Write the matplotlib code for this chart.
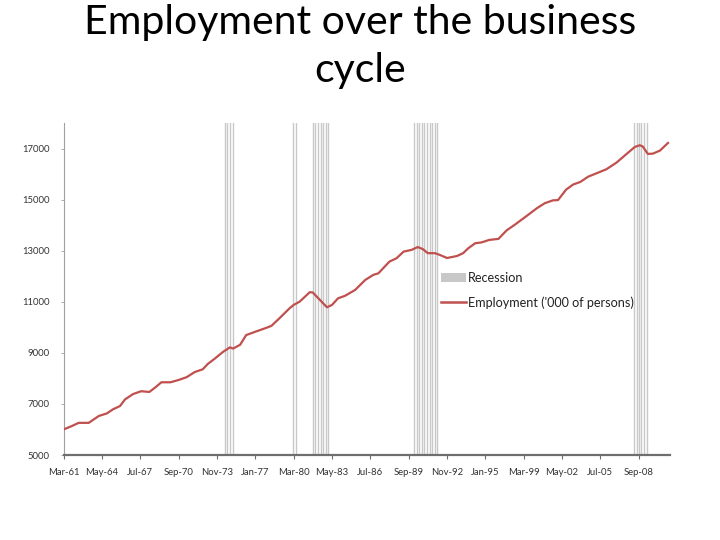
import matplotlib
matplotlib.use("Agg")
import matplotlib.pyplot as plt
from matplotlib.patches import Patch
from matplotlib.lines import Line2D

# ---- data ----
emp_dates = ["1961-03", "1961-11", "1962-06", "1963-04", "1964-02", "1964-10", "1965-04",
             "1965-11", "1966-04", "1966-12", "1967-08", "1968-04", "1968-10", "1969-04",
             "1970-01", "1970-09", "1971-05", "1972-01", "1972-09", "1973-02", "1973-09",
             "1974-05", "1974-12", "1975-03", "1975-10", "1976-04", "1977-01", "1977-11",
             "1978-05", "1979-01", "1979-11", "1980-03", "1980-09", "1981-07", "1981-10",
             "1982-05", "1982-12", "1983-05", "1983-11", "1984-06", "1985-04", "1986-02",
             "1986-10", "1987-03", "1988-02", "1988-09", "1989-04", "1989-12", "1990-06",
             "1990-11", "1991-04", "1991-11", "1992-04", "1992-11", "1993-09", "1994-03",
             "1994-08", "1995-03", "1995-09", "1996-05", "1997-02", "1997-10", "1998-06",
             "1999-06", "2000-04", "2000-12", "2001-08", "2002-01", "2002-09", "2003-04",
             "2003-11", "2004-07", "2005-05", "2006-01", "2006-11", "2007-09", "2008-05",
             "2008-10", "2009-01", "2009-06", "2009-11", "2010-06", "2011-02"]
emp_values = [6000, 6130, 6260, 6260, 6530, 6630, 6790,
              6920, 7180, 7390, 7500, 7470, 7650, 7850,
              7850, 7940, 8050, 8250, 8360, 8570, 8780,
              9040, 9220, 9170, 9320, 9700, 9830, 9970,
              10060, 10360, 10750, 10880, 11010, 11380, 11370,
              11080, 10790, 10880, 11140, 11240, 11470, 11860,
              12060, 12120, 12580, 12710, 12970, 13040, 13150,
              13070, 12910, 12910, 12840, 12720, 12800, 12910,
              13100, 13300, 13330, 13430, 13470, 13800, 14020,
              14370, 14670, 14870, 14980, 14990, 15400, 15600,
              15700, 15910, 16070, 16200, 16460, 16800, 17070,
              17140, 17090, 16800, 16810, 16930, 17230]

recession_dates = ["1974-07", "1974-09", "1974-12", "1975-03",
                   "1980-02", "1980-05",
                   "1981-10", "1981-12", "1982-03", "1982-06", "1982-08", "1982-11", "1983-01",
                   "1990-02", "1990-05", "1990-07", "1990-10", "1990-12", "1991-03", "1991-06",
                   "1991-08", "1991-11", "1992-01",
                   "2008-04", "2008-07", "2008-09", "2008-11", "2009-02", "2009-05"]

tick_labels = ["Mar-61", "May-64", "Jul-67", "Sep-70", "Nov-73", "Jan-77", "Mar-80", "May-83",
               "Jul-86", "Sep-89", "Nov-92", "Jan-95", "Mar-99", "May-02", "Jul-05", "Sep-08"]
tick_step_months = 38
y_ticks = [5000, 7000, 9000, 11000, 13000, 15000, 17000]

START_Y, START_M = 1961, 3


def month_index(s):
    y, m = map(int, s.split("-"))
    return (y - START_Y) * 12 + (m - START_M)


# ---- figure ----
plt.rcParams['font.family'] = ['Lato', 'DejaVu Sans']
fig = plt.figure(figsize=(7.2, 5.4), dpi=100)
fig.patch.set_facecolor("white")

fig.text(0.5, 0.993, "Employment over the business\ncycle", ha="center", va="top",
         fontsize=29.5, color="#000000", linespacing=1.38)

ax = fig.add_axes([0.0882, 0.1574, 0.8424, 0.6143])

rec_color = "#C8C8C8"
for d in recession_dates:
    ax.axvline(month_index(d), color=rec_color, lw=1.0, zorder=1)

xs = [month_index(d) for d in emp_dates]
ax.plot(xs, emp_values, color="#C0504D", lw=1.6, zorder=3, solid_joinstyle="round")

ax.set_xlim(0, 601)
ax.set_ylim(5000, 18000)
ax.set_yticks(y_ticks)
ax.set_yticklabels([str(v) for v in y_ticks])
ax.set_xticks([i * tick_step_months for i in range(len(tick_labels))])
ax.set_xticklabels(tick_labels)

for s in ["top", "right"]:
    ax.spines[s].set_visible(False)
ax.spines["left"].set_color("#A0A0A0")
ax.spines["left"].set_linewidth(0.8)
ax.spines["bottom"].set_color("#6E6E6E")
ax.spines["bottom"].set_linewidth(1.6)

ax.tick_params(axis="x", direction="out", length=3, width=0.8, color="#6E6E6E",
               labelsize=6.8, labelcolor="#333333", pad=6)
ax.tick_params(axis="y", direction="out", length=2, width=0.6, color="#A0A0A0",
               labelsize=6.8, labelcolor="#333333", pad=8)

handles = [Patch(facecolor=rec_color, edgecolor="none"),
           Line2D([0], [0], color="#C0504D", lw=1.8)]
labels = ["Recession", "Employment ('000 of persons)"]
fig.legend(handles, labels, loc="upper left", bbox_to_anchor=(0.612, 0.496),
           frameon=False, fontsize=9.1, handlelength=2.0, handleheight=0.7,
           handletextpad=0.15, labelspacing=0.95, borderaxespad=0, borderpad=0,
           labelcolor="#222222")

fig.savefig("out.png", dpi=100, facecolor="white")
